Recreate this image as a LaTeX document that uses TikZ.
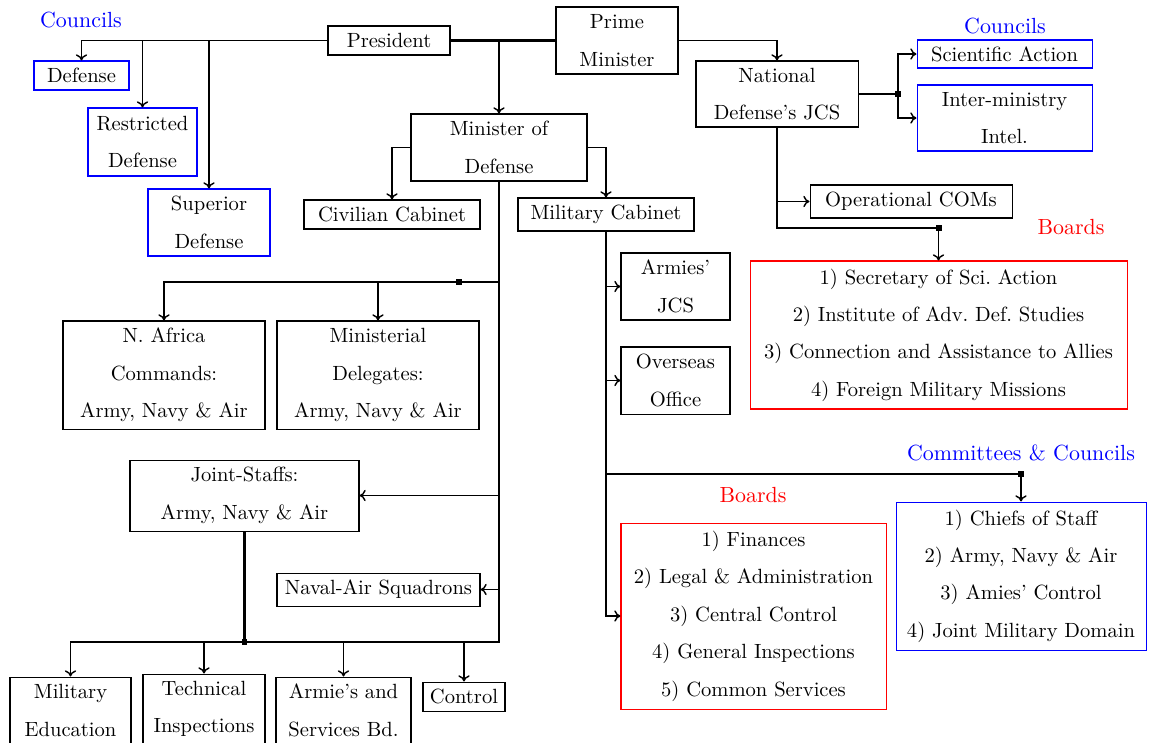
\documentclass[tikz,border=0pt]{standalone}
\usepackage{fontspec}
\usetikzlibrary{arrows.meta}
\def\pxu{0.4862pt}
\begin{document}
\begin{tikzpicture}[x=\pxu, y=-\pxu,
  box/.style={draw, line width=0.5pt, inner sep=0pt, align=center,
    font=\fontsize{10}{18.2}\selectfont},
  bluebox/.style={box, draw=blue},
  redbox/.style={box, draw=red},
  sz/.style 2 args={minimum width=#1*\pxu, minimum height=#2*\pxu},
  conn/.style={line width=0.7pt},
  heavy/.style={line width=1.35pt},
  arr/.style={conn, -{To[length=3pt,width=5.5pt]}},
  junction/.style={fill=black, inner sep=0pt, minimum size=2.9pt},
  grouplabel/.style={font=\fontsize{10.65}{12}\selectfont, inner sep=0pt}]
\useasboundingbox (0,0) rectangle (1149,742);

% group labels
\node[grouplabel, text=blue] (lcouncils) at (81,20) {Councils};
\node[grouplabel, text=blue] (rcouncils) at (1005,26) {Councils};
\node[grouplabel, text=red] (boardsA) at (1071,227) {Boards};
\node[grouplabel, text=blue] (cclabel) at (1021,453) {Committees \& Councils};
\node[grouplabel, text=red] (boardsB) at (753,495) {Boards};

% top level
\node[box, sz={122}{29}] (pres) at (389,40.5) {President};
\node[box, sz={122}{67}] (pm) at (617,40.5) {Prime\\Minister};

% councils on the left
\node[bluebox, sz={95}{29}] (defc) at (81.5,75.5) {Defense};
\node[bluebox, sz={109}{68}] (restr) at (142.5,142) {Restricted\\Defense};
\node[bluebox, sz={122}{67}] (superior) at (209,222.5) {Superior\\Defense};

% ministry
\node[box, sz={176}{67}] (mindef) at (499,147.5) {Minister of\\Defense};
\node[box, sz={176}{29}] (civ) at (392,214.5) {Civilian Cabinet};
\node[box, sz={176}{33}] (milcab) at (606,214.5) {Military Cabinet};

% national defense JCS branch
\node[box, sz={162}{66}] (ndjcs) at (777,94) {National\\Defense’s JCS};
\node[bluebox, sz={175}{28}] (sci) at (1004.5,54) {Scientific Action};
\node[bluebox, sz={175}{66}] (inter) at (1004.5,118) {Inter-ministry\\Intel.};
\node[box, sz={202}{33}] (opcom) at (911,201.5) {Operational COMs};
\node[redbox, sz={377}{148}] (boardsone) at (938.5,335)
  {1) Secretary of Sci.\ Action\\2) Institute of Adv.\ Def.\ Studies\\3) Connection and Assistance to Allies\\4) Foreign Military Missions};

% military cabinet branch
\node[box, sz={109}{67}] (armjcs) at (675.5,286.5) {Armies’\\JCS};
\node[box, sz={109}{67}] (overseas) at (675.5,380.5) {Overseas\\Office};
\node[redbox, sz={265}{186}] (boardstwo) at (753.5,616)
  {1) Finances\\2) Legal \& Administration\\3) Central Control\\4) General Inspections\\5) Common Services};
\node[bluebox, sz={250}{148}] (comm) at (1021,576)
  {1) Chiefs of Staff\\2) Army, Navy \& Air\\3) Amies’ Control\\4) Joint Military Domain};

% commands and delegates
\node[box, sz={202}{108}] (nafrica) at (164,375) {N. Africa\\Commands:\\Army, Navy \& Air};
\node[box, sz={202}{108}] (minist) at (378,375) {Ministerial\\Delegates:\\Army, Navy \& Air};
\node[box, sz={229}{71}] (joint) at (244.5,495.5) {Joint-Staffs:\\Army, Navy \& Air};
\node[box, sz={203}{33}] (naval) at (378.5,589.5) {Naval-Air Squadrons};

% bottom row
\node[box, sz={121}{67}] (miled) at (70.5,710.5) {Military\\Education};
\node[box, sz={122}{70}] (tech) at (204,709) {Technical\\Inspections};
\node[box, sz={135}{67}] (armies) at (343.5,710.5) {Armie’s and\\Services Bd.};
\node[box, sz={82}{29}] (control) at (464,696.5) {Control};

% junction points
\coordinate (hub) at (244.5,642);
\coordinate (delegrow) at (499,282);
\coordinate (jcsfork) at (898,94);
\coordinate (boardsfork) at (938.5,228);
\coordinate (ccfork) at (1021,474);
\coordinate (ccrow) at (606,474);

% president and prime minister
\draw[heavy] (pres.east) -- (pm.west);
\draw[arr] (pres.west) -| (defc.north);
\draw[arr] (restr.north |- pres.west) -- (restr.north);
\draw[arr] (superior.north |- pres.west) -- (superior.north);
\draw[arr] (mindef.north |- pres.east) -- (mindef.north);
\draw[arr] (pm.east) -| (ndjcs.north);

% minister of defense
\draw[arr] (mindef.west) -| (civ.north);
\draw[arr] (mindef.east) -| (milcab.north);
\draw[heavy] (mindef.south) |- (hub);
\draw[heavy] (joint.south) -- (hub);
\draw[arr] (delegrow) -| (nafrica.north);
\draw[arr] (minist.north |- delegrow) -- (minist.north);
\draw[arr] (joint.east -| mindef.south) -- (joint.east);
\draw[arr] (naval.east -| mindef.south) -- (naval.east);

% bottom distribution
\draw[arr] (hub) -| (miled.north);
\draw[arr] (tech.north |- hub) -- (tech.north);
\draw[arr] (armies.north |- hub) -- (armies.north);
\draw[arr] (control.north |- hub) -- (control.north);

% national defense JCS
\draw[conn] (ndjcs.east) -- (jcsfork);
\draw[arr] (jcsfork) |- (sci.west);
\draw[arr] (jcsfork) |- (inter.west);
\draw[conn] (ndjcs.south) |- (boardsfork);
\draw[arr] (boardsfork) -- (boardsone.north);
\draw[arr] (opcom.west -| ndjcs.south) -- (opcom.west);

% military cabinet
\draw[arr] (milcab.south) |- (boardstwo.west);
\draw[arr] (armjcs.west -| milcab.south) -- (armjcs.west);
\draw[arr] (overseas.west -| milcab.south) -- (overseas.west);
\draw[conn] (ccrow) -- (ccfork);
\draw[arr] (ccfork) -- (comm.north);

% junction markers
\node[junction] (m1) at (459,282) {};
\node[junction] (m2) at (hub) {};
\node[junction] (m3) at (jcsfork) {};
\node[junction] (m4) at (boardsfork) {};
\node[junction] (m5) at (ccfork) {};
\end{tikzpicture}
\end{document}
